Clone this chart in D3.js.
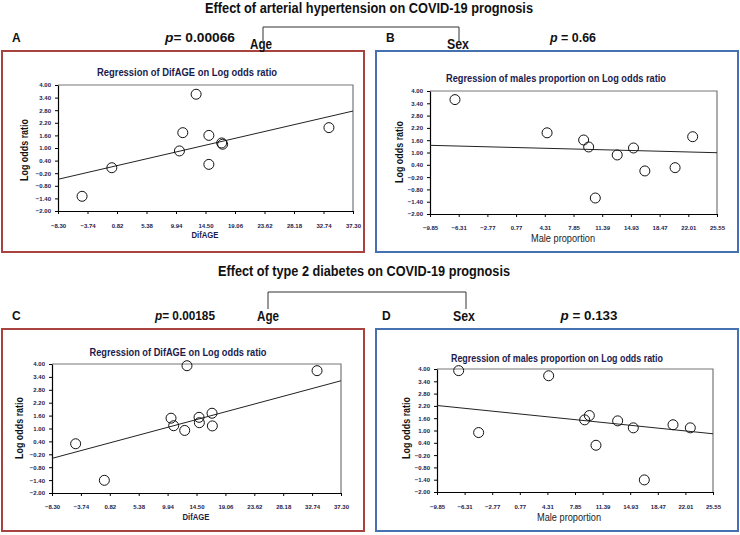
<!DOCTYPE html>
<html>
<head>
<meta charset="utf-8">
<script src="https://cdn.jsdelivr.net/npm/d3@7"></script>
<style>
  html, body { margin: 0; padding: 0; background: #fff; }
  svg { display: block; }
</style>
</head>
<body>
<svg id="chart" width="740" height="535"></svg>
<script>
// ---------------- DATA ----------------
const yTicks = [4.00, 3.40, 2.80, 2.20, 1.60, 1.00, 0.40, -0.20, -0.80, -1.40, -2.00];
const ageTicks = [-8.30, -3.74, 0.82, 5.38, 9.94, 14.50, 19.06, 23.62, 28.18, 32.74, 37.30];
const sexTicks = [-9.85, -6.31, -2.77, 0.77, 4.31, 7.85, 11.39, 14.93, 18.47, 22.01, 25.55];

// A: hypertension, age
const htnAgeX = [-4.58, 0.02, 10.47, 10.99, 13.05, 15.02, 15.02, 17.00, 17.15, 33.58];
const htnAgeY = [-1.30, 0.06, 0.86, 1.73, 3.56, 1.60, 0.22, 1.24, 1.18, 1.97];
const htnAgeLine = [-0.49, 2.76];   // fitted log OR at left / right ends of x-domain

// B: hypertension, sex
const htnSexX = [-6.77, 4.59, 9.10, 9.72, 10.54, 13.24, 15.25, 16.65, 20.38, 22.55];
const htnSexY = [3.58, 1.96, 1.61, 1.27, -1.22, 0.88, 1.22, 0.10, 0.26, 1.77];
const htnSexLine = [1.35, 0.99];

// C: diabetes, age
const dmAgeX = [-4.57, -0.04, 10.48, 10.90, 12.64, 13.00, 14.90, 14.95, 16.95, 17.00, 33.52];
const dmAgeY = [0.29, -1.41, 1.48, 1.13, 0.91, 3.92, 1.52, 1.27, 1.71, 1.12, 3.69];
const dmAgeLine = [-0.39, 3.22];

// D: diabetes, sex
const dmSexX = [-7.07, -4.51, 4.47, 9.09, 9.69, 10.54, 13.32, 15.33, 16.74, 20.42, 22.64];
const dmSexY = [3.92, 0.90, 3.67, 1.52, 1.73, 0.28, 1.47, 1.13, -1.41, 1.28, 1.13];
const dmSexLine = [2.22, 0.84];

const rowTitles = ["Effect of arterial hypertension on COVID-19 prognosis",
                   "Effect of type 2 diabetes on COVID-19 prognosis"];
const panelLetters = ["A", "B", "C", "D"];
const pValues = ["0.00066", "0.66", "0.00185", "0.133"];
const plotTitles = ["Regression of DifAGE  on Log odds ratio",
                    "Regression of males proportion  on Log odds ratio",
                    "Regression of DifAGE on Log odds ratio",
                    "Regression of males proportion  on Log odds ratio"];
const xTitles = ["DifAGE", "Male proportion", "DifAGE", "Male proportion"];
const yTitle = "Log odds ratio";

// ---------------- DRAW ----------------
const svg = d3.select("#chart");
const FONT = "'Liberation Sans', Arial, sans-serif";
const RED = "#a8433f", BLUE = "#4571b0", NAVY = "#1b1b4d";

function squeeze(sel, len) {
  return sel.attr("textLength", len).attr("lengthAdjust", "spacingAndGlyphs");
}

// Row titles + brackets
const rows = [
  {titleY: 13, cx: 369, w: 328, bl: 263, br: 459, bt: 27, bb: 41},
  {titleY: 276, cx: 364, w: 292, bl: 268, br: 466, bt: 292, bb: 309}
];
rows.forEach((r, i) => {
  squeeze(svg.append("text").attr("x", r.cx).attr("y", r.titleY)
    .attr("text-anchor", "middle").attr("font-family", FONT)
    .attr("font-weight", "bold").attr("font-size", 14.5).attr("fill", "#111")
    .text(rowTitles[i]), r.w);
  svg.append("path")
    .attr("d", `M${r.bl},${r.bb}V${r.bt}H${r.br}V${r.bb}`)
    .attr("fill", "none").attr("stroke", "#333").attr("stroke-width", 1);
});

const panels = [
  {frame: [2, 51, 364, 252], color: RED, plot: [58, 85, 353, 211], x: htnAgeX, y: htnAgeY, line: htnAgeLine, ticks: ageTicks,
   letter: [12, 42], p: [200, 42, 70], cat: ["Age", 261, 49], title: [187, 76, 180], xt: [205, 238], yt: [25, 150], xtick: 226, boldX: true},
  {frame: [376, 51, 738, 252], color: BLUE, plot: [430, 91, 717, 214], x: htnSexX, y: htnSexY, line: htnSexLine, ticks: sexTicks,
   letter: [386, 42], p: [573, 42, 46], cat: ["Sex", 458, 49], title: [556, 82, 220], xt: [563, 242], yt: [400, 152], xtick: 228, boldX: false},
  {frame: [2, 329, 364, 531], color: RED, plot: [52, 364, 341, 493], x: dmAgeX, y: dmAgeY, line: dmAgeLine, ticks: ageTicks,
   letter: [12, 320], p: [185, 320, 60], cat: ["Age", 268, 321], title: [178, 356, 177], xt: [196, 520], yt: [20, 428], xtick: 507, boldX: true},
  {frame: [376, 329, 738, 531], color: BLUE, plot: [437, 369, 713, 492], x: dmSexX, y: dmSexY, line: dmSexLine, ticks: sexTicks,
   letter: [382, 320], p: [589, 320, 57], cat: ["Sex", 464, 321], title: [557, 362, 212], xt: [569, 521], yt: [407, 428], xtick: 507, boldX: false}
];

panels.forEach((P, i) => {
  const [fx0, fy0, fx1, fy1] = P.frame;
  svg.append("rect").attr("x", fx0).attr("y", fy0)
    .attr("width", fx1 - fx0).attr("height", fy1 - fy0)
    .attr("fill", "none").attr("stroke", P.color).attr("stroke-width", 2);

  // header labels
  svg.append("text").attr("x", P.letter[0]).attr("y", P.letter[1])
    .attr("font-family", FONT).attr("font-weight", "bold").attr("font-size", 12)
    .attr("fill", "#111").text(panelLetters[i]);
  const pt = svg.append("text").attr("x", P.p[0]).attr("y", P.p[1])
    .attr("text-anchor", "middle").attr("font-family", FONT)
    .attr("font-weight", "bold").attr("font-size", 13).attr("fill", "#111");
  pt.append("tspan").attr("font-style", "italic").text("p");
  pt.append("tspan").text(i % 2 === 0 ? "= " + pValues[i] : " = " + pValues[i]);
  squeeze(pt, P.p[2]);
  squeeze(svg.append("text").attr("x", P.cat[1]).attr("y", P.cat[2])
    .attr("text-anchor", "middle").attr("font-family", FONT)
    .attr("font-weight", "bold").attr("font-size", 14).attr("fill", "#111")
    .text(P.cat[0]), 22);

  // plot
  const [px0, py0, px1, py1] = P.plot;
  const xs = d3.scaleLinear().domain([P.ticks[0], P.ticks[P.ticks.length - 1]]).range([px0, px1]);
  const ys = d3.scaleLinear().domain([-2, 4]).range([py1, py0]);

  squeeze(svg.append("text").attr("x", P.title[0]).attr("y", P.title[1])
    .attr("text-anchor", "middle").attr("font-family", FONT)
    .attr("font-weight", "bold").attr("font-size", 10).attr("fill", NAVY)
    .text(plotTitles[i]), P.title[2]);

  // top/right frame of plot area
  svg.append("path").attr("d", `M${px0},${py0}H${px1}V${py1}`)
    .attr("fill", "none").attr("stroke", "#777").attr("stroke-width", 1.2);

  const xAxis = svg.append("g").attr("transform", `translate(0,${py1})`)
    .call(d3.axisBottom(xs).tickValues(P.ticks).tickSize(3).tickSizeOuter(0)
      .tickFormat(d3.format(".2f")));
  xAxis.select(".domain").attr("stroke", "#000").attr("stroke-width", 1.2);
  xAxis.selectAll(".tick line").attr("stroke", "#000");
  xAxis.selectAll("text").attr("font-family", FONT).attr("font-weight", "bold")
    .attr("font-size", 6).attr("fill", NAVY).attr("dy", null)
    .attr("y", P.xtick - py1 + 2);

  const yAxis = svg.append("g").attr("transform", `translate(${px0},0)`)
    .call(d3.axisLeft(ys).tickValues(yTicks).tickSize(3).tickSizeOuter(0)
      .tickFormat(d3.format(".2f")));
  yAxis.select(".domain").attr("stroke", "#000").attr("stroke-width", 1.2);
  yAxis.selectAll(".tick line").attr("stroke", "#000");
  yAxis.selectAll("text").attr("font-family", FONT).attr("font-weight", "bold")
    .attr("font-size", 6).attr("fill", NAVY).attr("x", -7);

  // axis titles
  const xt = svg.append("text").attr("x", P.xt[0]).attr("y", P.xt[1])
    .attr("text-anchor", "middle").attr("font-family", FONT)
    .attr("font-weight", P.boldX ? "bold" : "normal")
    .attr("font-size", P.boldX ? 9 : 10).attr("fill", P.boldX ? NAVY : "#222")
    .text(xTitles[i]);
  squeeze(xt, P.boldX ? 27 : 64);
  squeeze(svg.append("text")
    .attr("transform", `translate(${P.yt[0] + 3},${P.yt[1]}) rotate(-90)`)
    .attr("text-anchor", "middle").attr("font-family", FONT)
    .attr("font-weight", "bold").attr("font-size", 10).attr("fill", "#111")
    .text(yTitle), 62);

  // regression line
  const dom = xs.domain();
  svg.append("line")
    .attr("x1", xs(dom[0])).attr("y1", ys(P.line[0]))
    .attr("x2", xs(dom[1])).attr("y2", ys(P.line[1]))
    .attr("stroke", "#222").attr("stroke-width", 1);

  // points
  svg.append("g").selectAll("circle")
    .data(P.x.map((v, k) => [v, P.y[k]]))
    .join("circle")
    .attr("cx", d => xs(d[0])).attr("cy", d => ys(d[1])).attr("r", 5)
    .attr("fill", "none").attr("stroke", "#111").attr("stroke-width", 1);
});
</script>
</body>
</html>
